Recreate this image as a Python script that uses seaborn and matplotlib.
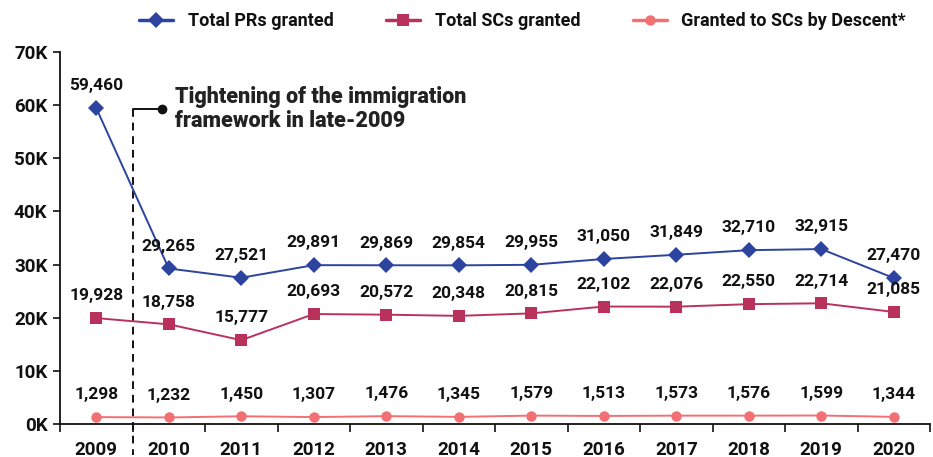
import numpy as np
import pandas as pd
import matplotlib
matplotlib.use("Agg")
import matplotlib.pyplot as plt
from matplotlib.lines import Line2D
import seaborn as sns

years = ["2009", "2010", "2011", "2012", "2013", "2014", "2015", "2016", "2017", "2018", "2019", "2020"]
prs_granted = [59460, 29265, 27521, 29891, 29869, 29854, 29955, 31050, 31849, 32710, 32915, 27470]
scs_granted = [19928, 18758, 15777, 20693, 20572, 20348, 20815, 22102, 22076, 22550, 22714, 21085]
scs_descent = [1298, 1232, 1450, 1307, 1476, 1345, 1579, 1513, 1573, 1576, 1599, 1344]
series_names = ["Total PRs granted", "Total SCs granted", "Granted to SCs by Descent*"]
y_ticks = [0, 10000, 20000, 30000, 40000, 50000, 60000, 70000]
y_tick_labels = ["0K", "10K", "20K", "30K", "40K", "50K", "60K", "70K"]
annotation_text = "Tightening of the immigration\nframework in late-2009"

colors = ["#2C44A0", "#B9325B", "#F27073"]
markers = ["D", "s", "o"]
msizes = [8, 8.5, 7.5]

sns.set_theme(style="white")
plt.rcParams["font.family"] = ["Roboto", "DejaVu Sans"]

narrow = ["Liberation Sans Narrow", "Roboto", "DejaVu Sans"]

fig = plt.figure(figsize=(9.33, 4.57), dpi=100)
ax = fig.add_axes([60 / 933, 33 / 457, 870 / 933, 372 / 457])

pos = np.arange(len(years))
df = pd.DataFrame({
    "pos": np.tile(pos, 3),
    "value": prs_granted + scs_granted + scs_descent,
    "series": np.repeat(series_names, len(years)),
})

for name, c, m, ms in zip(series_names, colors, markers, msizes):
    sub = df[df["series"] == name]
    sns.lineplot(data=sub, x="pos", y="value", ax=ax, color=c, linewidth=1.4,
                 marker=m, markersize=ms, markeredgewidth=0, legend=False)
    for x, v in zip(sub["pos"], sub["value"]):
        ax.annotate(f"{v:,}", (x, v), xytext=(0, 16), textcoords="offset points",
                    ha="center", va="center", fontsize=12.5, fontweight="bold",
                    color="#111111")

ax.set_xlim(-0.5, len(years) - 0.5)
ax.set_ylim(0, 70000)
ax.set_xlabel("")
ax.set_ylabel("")
sns.despine(ax=ax)
for s in ["left", "bottom"]:
    ax.spines[s].set_color("#111111")
    ax.spines[s].set_linewidth(1.3)

ax.set_yticks(y_ticks)
ax.set_yticklabels(y_tick_labels, fontfamily=narrow, fontsize=13.5, fontweight="bold")
ax.set_xticks(pos)
ax.set_xticklabels(years, fontfamily=narrow, fontsize=13.5, fontweight="bold")
ax.set_xticks(np.arange(-0.5, len(years)), minor=True)
ax.tick_params(axis="x", which="major", length=0, pad=12, colors="#111111")
ax.tick_params(axis="x", which="minor", length=6, width=1.2, direction="out",
               color="#111111", bottom=True)
ax.tick_params(axis="y", length=5, width=1.2, direction="out", color="#111111",
               left=True, pad=4, labelcolor="#111111")

# annotation: dashed boundary line between 2009 and 2010
ax.plot([0.5, 0.5], [59300, -5800], ls=(0, (4, 3)), color="#111111", lw=1.4,
        clip_on=False, zorder=1)
ax.plot([0.5, 0.9], [59300, 59300], color="#111111", lw=1.4, clip_on=False)
ax.plot([0.9], [59300], marker="o", color="#111111", markersize=6)
ax.text(1.08, 59300, annotation_text, ha="left", va="center", fontsize=15.5,
        fontweight="heavy", color="#222222", linespacing=1.1)

handles = [Line2D([0], [0], color=c, marker=m, markersize=ms, lw=2.5,
                  markeredgewidth=0) for c, m, ms in zip(colors, markers, msizes)]
leg = fig.legend(handles, series_names, loc="center", bbox_to_anchor=(0.56, 0.953),
                 ncol=3, frameon=False, handlelength=1.9, columnspacing=2.9,
                 handletextpad=0.8,
                 prop={"family": narrow, "weight": "bold", "size": 13})
for t in leg.get_texts():
    t.set_color("#111111")

fig.savefig("out.png", dpi=100)
